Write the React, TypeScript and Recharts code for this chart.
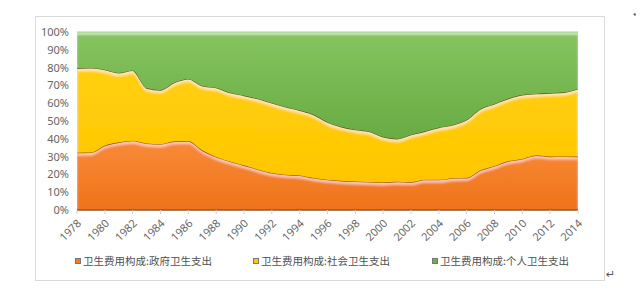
import { AreaChart, Area, XAxis, YAxis } from 'recharts'

const years = [
  '1978', '1979', '1980', '1981', '1982', '1983', '1984', '1985', '1986', '1987',
  '1988', '1989', '1990', '1991', '1992', '1993', '1994', '1995', '1996', '1997',
  '1998', '1999', '2000', '2001', '2002', '2003', '2004', '2005', '2006', '2007',
  '2008', '2009', '2010', '2011', '2012', '2013', '2014',
]

// 政府卫生支出 (%)
const gov = [
  32.2, 32.3, 36.2, 38.0, 38.9, 37.4, 37.0, 38.6, 38.7, 33.5,
  29.8, 27.3, 25.1, 22.8, 20.8, 19.8, 19.4, 18.0, 17.0, 16.4,
  16.0, 15.8, 15.5, 15.9, 15.7, 17.0, 17.0, 17.9, 18.1, 22.3,
  24.7, 27.5, 28.7, 30.7, 30.0, 30.1, 30.0,
]

// 社会卫生支出 (%)
const social = [
  47.4, 47.5, 42.6, 39.0, 39.5, 31.1, 30.4, 33.0, 34.9, 36.2,
  38.9, 38.6, 39.2, 39.7, 39.3, 38.1, 36.6, 35.6, 32.3, 30.3,
  29.1, 28.3, 25.6, 24.1, 26.6, 27.2, 29.3, 29.9, 32.6, 34.5,
  34.9, 35.1, 36.0, 34.6, 35.7, 36.0, 38.1,
]

// 个人卫生支出 (%)
const personal = [
  20.4, 20.2, 21.2, 23.0, 21.6, 31.5, 32.6, 28.4, 26.4, 30.3,
  31.3, 34.1, 35.7, 37.5, 39.9, 42.1, 44.0, 46.4, 50.7, 53.3,
  54.9, 55.9, 58.9, 60.0, 57.7, 55.8, 53.7, 52.2, 49.3, 43.2,
  40.4, 37.4, 35.3, 34.7, 34.3, 33.9, 31.9,
]

const yTicks = [0, 0.1, 0.2, 0.3, 0.4, 0.5, 0.6, 0.7, 0.8, 0.9, 1]

const seriesNames = ['卫生费用构成:政府卫生支出', '卫生费用构成:社会卫生支出', '卫生费用构成:个人卫生支出']
const seriesColors = ['#f47b20', '#ffc800', '#70b048']

const data = years.map((year, i) => ({
  year,
  gov: gov[i],
  social: social[i],
  personal: personal[i],
}))

const XTick = (props: any) => {
  const { x, y, payload } = props
  const tx = x + 5
  const ty = y + 8
  return (
    <text
      x={tx}
      y={ty}
      transform={`rotate(-45 ${tx} ${ty})`}
      textAnchor="end"
      fontSize={11}
      fontFamily="'Noto Sans', sans-serif"
      fill="#666"
    >
      {payload.value}
    </text>
  )
}

export default function App() {
  const legendX = [75, 253, 432]
  return (
    <div style={{ position: 'relative', width: 644, height: 294, margin: -8, background: '#fff', overflow: 'hidden' }}>
      <style>{`.bevel .recharts-area-area { filter: url(#bevel); }`}</style>
      <div style={{ position: 'absolute', left: 0, top: 4, width: 637, height: 1, background: '#111' }} />
      <div style={{ position: 'absolute', left: 633, top: 9, fontSize: 9, lineHeight: '10px', color: '#555', fontFamily: 'DejaVu Sans' }}>↵</div>
      <div style={{ position: 'absolute', left: 0, top: 290, width: 644, height: 2, background: '#111' }} />
      <div
        style={{
          position: 'absolute',
          left: 35,
          top: 16,
          width: 570,
          height: 265,
          border: '1px solid #d9d9d9',
          boxSizing: 'border-box',
        }}
      />
      <div style={{ position: 'absolute', left: 606, top: 268, fontSize: 11, color: '#555', fontFamily: 'DejaVu Sans' }}>↵</div>
      <div className="bevel" style={{ position: 'absolute', left: 35, top: 16 }}>
        <AreaChart
          width={570}
          height={265}
          data={data}
          stackOffset="expand"
          margin={{ top: 16, right: 27, left: 0, bottom: 31 }}
        >
          <defs>
            <filter id="bevel" x="-2%" y="-5%" width="104%" height="110%">
              <feOffset in="SourceAlpha" dy="3" result="off" />
              <feGaussianBlur in="off" stdDeviation="1.2" result="offBlur" />
              <feComposite in="SourceAlpha" in2="offBlur" operator="out" result="band" />
              <feFlood floodColor="#ffffff" floodOpacity="0.45" />
              <feComposite in2="band" operator="in" result="hl" />
              <feMerge>
                <feMergeNode in="SourceGraphic" />
                <feMergeNode in="hl" />
              </feMerge>
            </filter>
            <linearGradient id="gGov" x1="0" y1="0" x2="0" y2="1">
              <stop offset="0%" stopColor="#f98a38" />
              <stop offset="100%" stopColor="#ef7319" />
            </linearGradient>
            <linearGradient id="gSocial" x1="0" y1="0" x2="0" y2="1">
              <stop offset="0%" stopColor="#ffd00e" />
              <stop offset="100%" stopColor="#ffc600" />
            </linearGradient>
            <linearGradient id="gPersonal" x1="0" y1="0" x2="0" y2="1">
              <stop offset="0%" stopColor="#86c460" />
              <stop offset="100%" stopColor="#68ab42" />
            </linearGradient>
          </defs>
          <XAxis
            dataKey="year"
            interval={1}
            height={40}
            tick={<XTick />}
            tickLine={{ stroke: '#d0d0d0' }}
            tickSize={4}
            axisLine={{ stroke: '#8a5a30', strokeWidth: 1.5 }}
          />
          <YAxis
            width={42}
            ticks={yTicks}
            domain={[0, 1]}
            tickFormatter={(v: number) => `${Math.round(v * 100)}%`}
            axisLine={false}
            tickLine={false}
            tick={{ fontSize: 11, fill: '#666', fontFamily: "'Noto Sans', sans-serif" }}
          />
          <Area
            type="monotone"
            dataKey="gov"
            stackId="1"
            fill="url(#gGov)"
            fillOpacity={1}
            stroke="#a4541c"
            strokeWidth={1.2}
            isAnimationActive={false}
          />
          <Area
            type="monotone"
            dataKey="social"
            stackId="1"
            fill="url(#gSocial)"
            fillOpacity={1}
            stroke="#5e5a1c"
            strokeWidth={1.2}
            isAnimationActive={false}
          />
          <Area
            type="monotone"
            dataKey="personal"
            stackId="1"
            fill="url(#gPersonal)"
            fillOpacity={1}
            stroke="#9fd67e"
            strokeWidth={1}
            isAnimationActive={false}
          />
        </AreaChart>
      </div>
      {seriesNames.map((name, i) => (
        <div
          key={name}
          style={{
            position: 'absolute',
            left: legendX[i],
            top: 253,
            display: 'flex',
            alignItems: 'center',
            fontSize: 10.5,
            color: '#505050',
            fontFamily: "'Noto Sans CJK SC', sans-serif",
            whiteSpace: 'nowrap',
          }}
        >
          <span style={{ width: 6, height: 6, background: seriesColors[i], border: '1px solid #777', marginRight: 2, boxSizing: 'border-box' }} />
          {name}
        </div>
      ))}
    </div>
  )
}
